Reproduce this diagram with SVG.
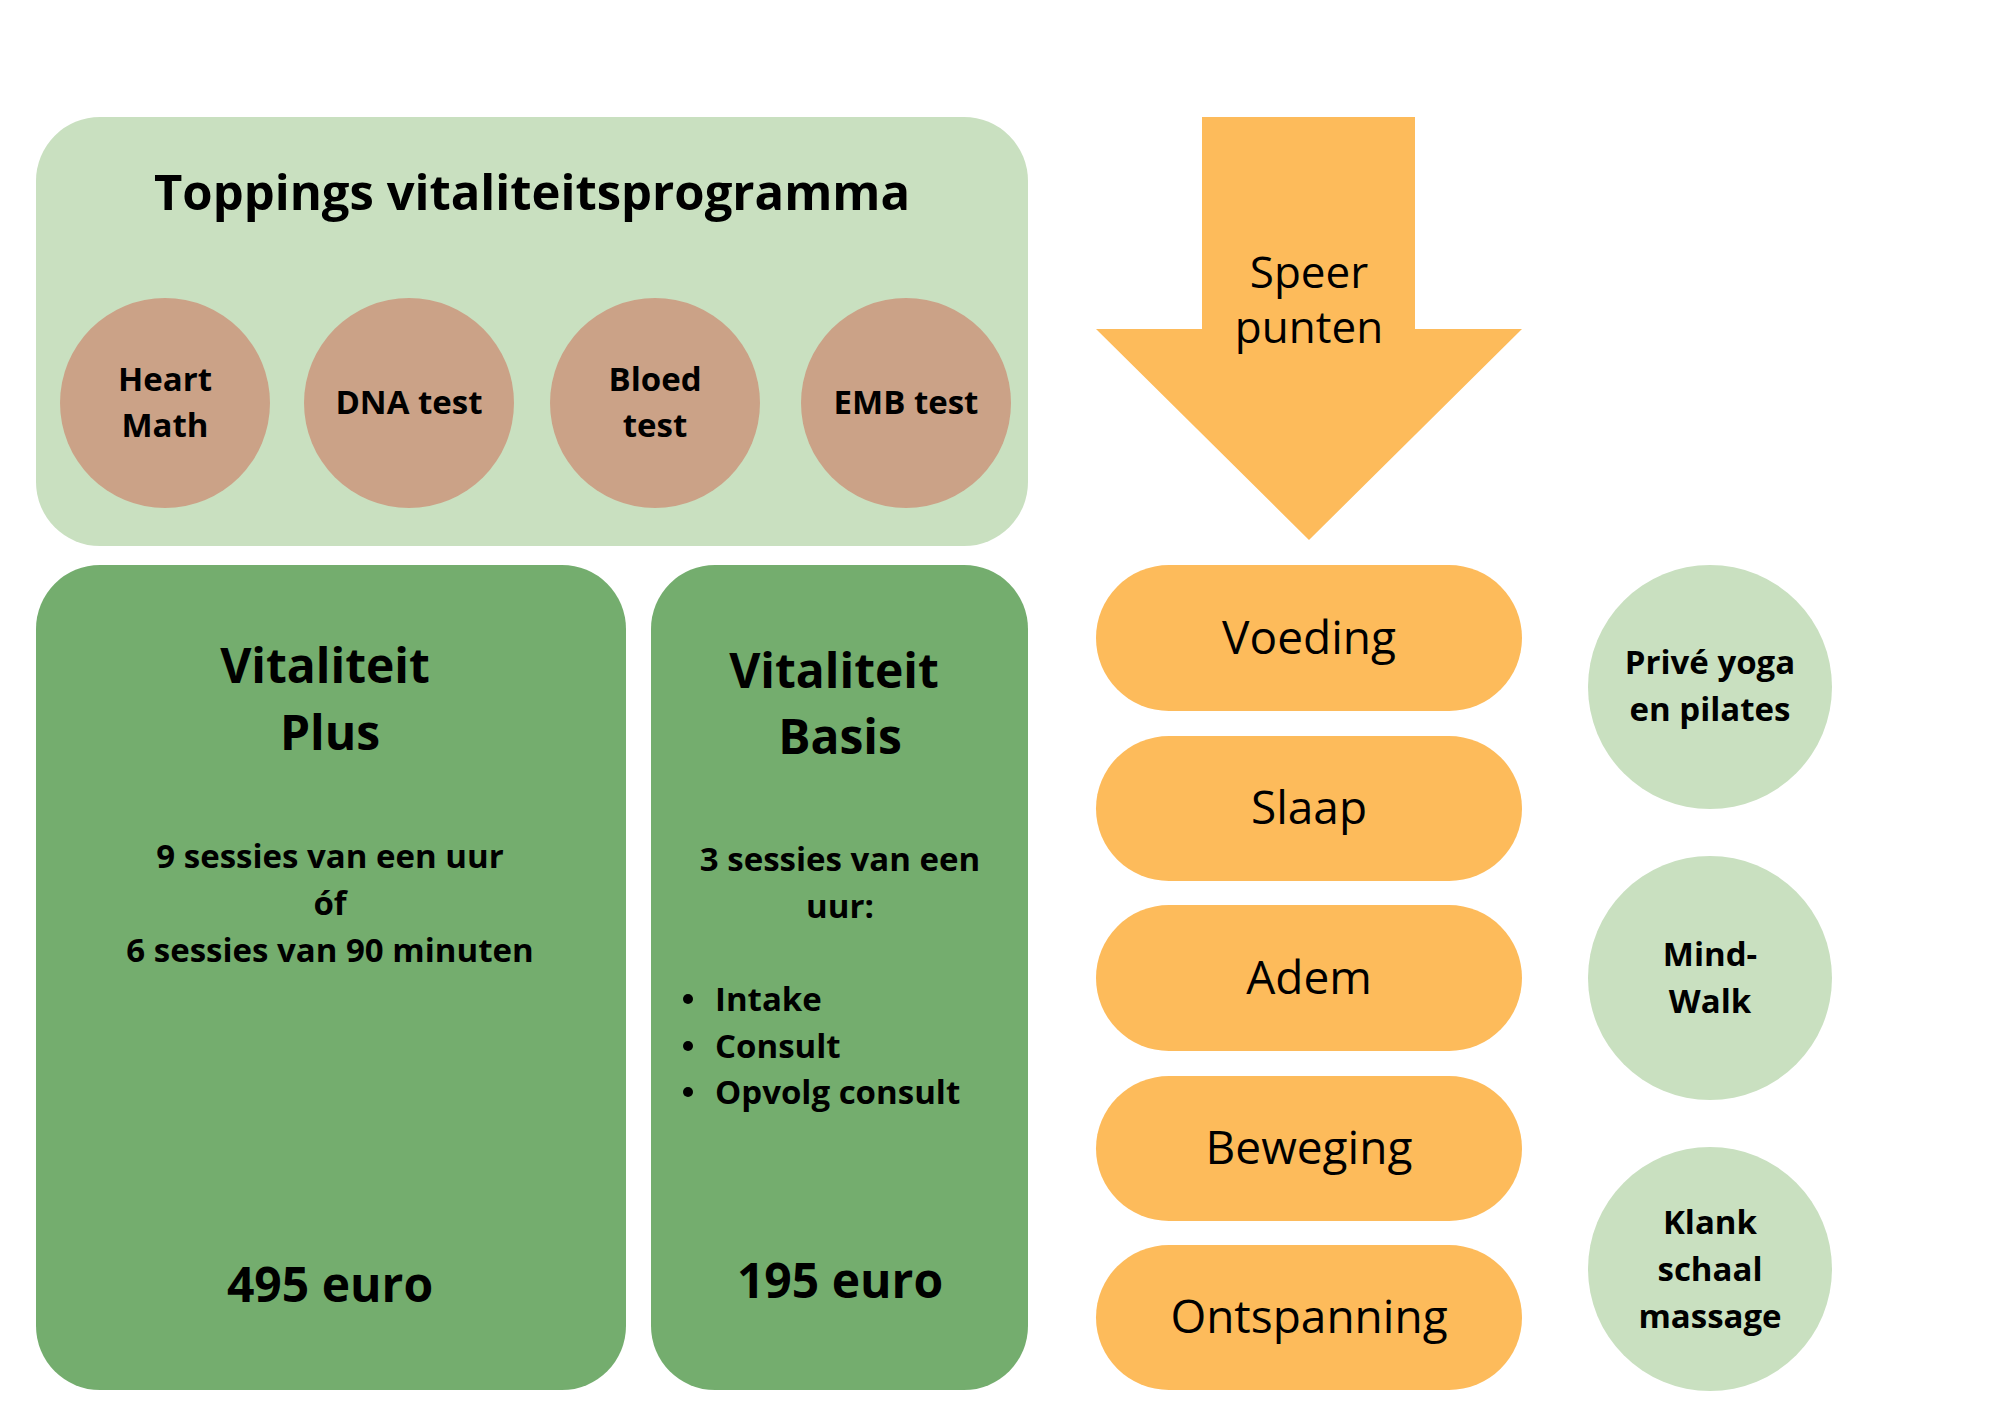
<svg xmlns="http://www.w3.org/2000/svg" width="2000" height="1414" viewBox="0 0 2000 1414">
<style>
text{font-family:"Open Sans","Liberation Sans",sans-serif;text-anchor:middle;fill:#000}
.b{font-weight:bold}
.s{font-size:33px;font-weight:bold}
.p{font-size:46px}
.pill{fill:#fdbb5b}
.lg{fill:#c9e0c0}
.dg{fill:#74ad6e}
.br{fill:#cba287}
</style>
<rect width="2000" height="1414" fill="#fff"/>
<g id="toppings">
<rect class="lg" x="36" y="117" width="992" height="429" rx="64"/>
<text class="b" x="532" y="210" font-size="49">Toppings vitaliteitsprogramma</text>
</g>
<g id="heartmath"><circle class="br" cx="165" cy="403" r="105"/><text class="s" x="165" y="391">Heart</text><text class="s" x="165" y="437">Math</text></g>
<g id="dna"><circle class="br" cx="409" cy="403" r="105"/><text class="s" x="409" y="414">DNA test</text></g>
<g id="bloed"><circle class="br" cx="655" cy="403" r="105"/><text class="s" x="655" y="391">Bloed</text><text class="s" x="655" y="437">test</text></g>
<g id="emb"><circle class="br" cx="906" cy="403" r="105"/><text class="s" x="906" y="414">EMB test</text></g>
<g id="plus">
<rect class="dg" x="36" y="565" width="590" height="825" rx="64"/>
<text class="b" x="325" y="683" font-size="48">Vitaliteit</text>
<text class="b" x="330" y="750" font-size="48">Plus</text>
<text class="s" x="330" y="868">9 sessies van een uur</text>
<text class="s" x="330" y="915">óf</text>
<text class="s" x="330" y="962">6 sessies van 90 minuten</text>
<text class="b" x="330" y="1302" font-size="48">495 euro</text>
</g>
<g id="basis">
<rect class="dg" x="651" y="565" width="377" height="825" rx="64"/>
<text class="b" x="834" y="688" font-size="48">Vitaliteit</text>
<text class="b" x="840" y="754" font-size="48">Basis</text>
<text class="s" x="840" y="871">3 sessies van een</text>
<text class="s" x="840" y="918">uur:</text>
<circle cx="688" cy="999" r="5"/><circle cx="688" cy="1046" r="5"/><circle cx="688" cy="1092" r="5"/>
<text class="s" x="715" y="1011" style="text-anchor:start">Intake</text>
<text class="s" x="715" y="1058" style="text-anchor:start">Consult</text>
<text class="s" x="715" y="1104" style="text-anchor:start">Opvolg consult</text>
<text class="b" x="840" y="1298" font-size="48">195 euro</text>
</g>
<g id="arrow">
<polygon class="pill" points="1202,117 1415,117 1415,329 1522,329 1309,540 1096,329 1202,329"/>
<text x="1309" y="288" font-size="44">Speer</text>
<text x="1309" y="343" font-size="44">punten</text>
</g>
<g id="voeding"><rect class="pill" x="1096" y="565" width="426" height="146" rx="73"/><text class="p" x="1309" y="654">Voeding</text></g>
<g id="slaap"><rect class="pill" x="1096" y="736" width="426" height="145" rx="73"/><text class="p" x="1309" y="824">Slaap</text></g>
<g id="adem"><rect class="pill" x="1096" y="905" width="426" height="146" rx="73"/><text class="p" x="1309" y="994">Adem</text></g>
<g id="beweging"><rect class="pill" x="1096" y="1076" width="426" height="145" rx="73"/><text class="p" x="1309" y="1164">Beweging</text></g>
<g id="ontspanning"><rect class="pill" x="1096" y="1245" width="426" height="145" rx="73"/><text class="p" x="1309" y="1333">Ontspanning</text></g>
<g id="yoga"><circle class="lg" cx="1710" cy="687" r="122"/><text class="s" x="1710" y="674">Privé yoga</text><text class="s" x="1710" y="721">en pilates</text></g>
<g id="mindwalk"><circle class="lg" cx="1710" cy="978" r="122"/><text class="s" x="1710" y="966">Mind-</text><text class="s" x="1710" y="1013">Walk</text></g>
<g id="klank"><circle class="lg" cx="1710" cy="1269" r="122"/><text class="s" x="1710" y="1234">Klank</text><text class="s" x="1710" y="1281">schaal</text><text class="s" x="1710" y="1328">massage</text></g>
<g id="connectors"></g>
</svg>
